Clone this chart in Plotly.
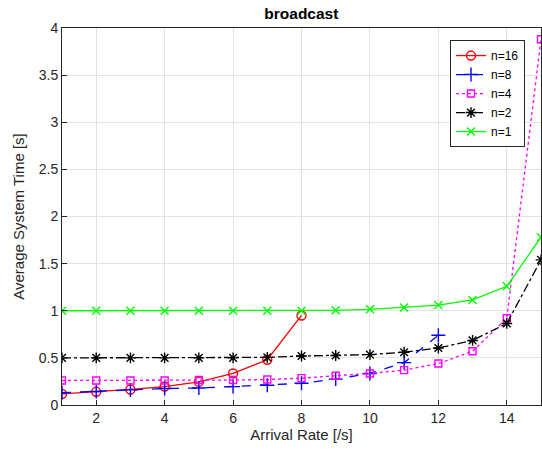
import plotly.graph_objects as go

x = list(range(1, 16))
n16 = [0.117, 0.14, 0.165, 0.196, 0.245, 0.335, 0.48, 0.95]
n8 = [0.13, 0.143, 0.16, 0.175, 0.18, 0.195, 0.21, 0.23, 0.275, 0.335, 0.45, 0.74]
n4 = [0.26, 0.26, 0.26, 0.26, 0.265, 0.265, 0.27, 0.285, 0.31, 0.335, 0.37, 0.44, 0.57, 0.92, 3.88]
n2 = [0.5, 0.5, 0.5, 0.5, 0.5, 0.5, 0.505, 0.52, 0.525, 0.535, 0.56, 0.605, 0.685, 0.865, 1.54]
n1 = [1.0, 1.0, 1.0, 1.0, 1.0, 1.0, 1.0, 1.0, 1.005, 1.015, 1.035, 1.06, 1.115, 1.26, 1.78]

series = [
    ("n=16", n16, "#ff0000", "solid", "circle-open", 9),
    ("n=8", n8, "#0000ff", "dash", "cross-thin-open", 10),
    ("n=4", n4, "#ff00ff", "dot", "square-open", 7),
    ("n=2", n2, "#000000", "dashdot", "asterisk-open", 9),
    ("n=1", n1, "#00ff00", "solid", "x-thin-open", 8),
]

fig = go.Figure()
for name, ys, col, dash, sym, sz in series:
    fig.add_trace(go.Scatter(
        x=x[:len(ys)], y=ys, name=name, mode="lines+markers",
        line=dict(color=col, width=1.3, dash=dash),
        marker=dict(symbol=sym, size=sz, color=col, line=dict(color=col, width=1.4)),
    ))

font = "Liberation Sans, Arial, Helvetica, sans-serif"
fig.update_layout(
    width=542, height=451,
    margin=dict(l=62, r=1, t=28, b=46, autoexpand=False),
    paper_bgcolor="white", plot_bgcolor="white",
    font=dict(family=font, size=14, color="#262626"),
    title=dict(text="<b>broadcast</b>", x=0.556, xanchor="center",
               yref="container", y=0.969, yanchor="middle",
               font=dict(size=15.5, color="black")),
    legend=dict(x=0.81, y=0.968, xanchor="left", yanchor="top",
                bgcolor="white", bordercolor="#262626", borderwidth=1,
                font=dict(size=12, color="black"), tracegroupgap=0,
                itemwidth=30, entrywidth=45, entrywidthmode="pixels"),
    showlegend=True,
)
fig.update_xaxes(
    range=[1, 15], tickvals=[2, 4, 6, 8, 10, 12, 14],
    showgrid=True, gridcolor="#e3e3e3", gridwidth=1,
    showline=True, linecolor="#262626", linewidth=1, mirror=True,
    ticks="inside", ticklen=5, tickcolor="#262626",
    zeroline=False, automargin=False,
    title=dict(text="Arrival Rate [/s]", font=dict(size=15, color="#262626"), standoff=4),
)
fig.update_yaxes(
    range=[0, 4], dtick=0.5,
    showgrid=True, gridcolor="#e3e3e3", gridwidth=1,
    showline=True, linecolor="#262626", linewidth=1, mirror=True,
    ticks="inside", ticklen=5, tickcolor="#262626",
    zeroline=False, automargin=False,
    title=dict(text="Average System Time [s]", font=dict(size=15, color="#262626"), standoff=10),
)
fig.write_html(
    "out.html",
    config={"displayModeBar": False},
    post_script="document.body.style.margin='0';document.documentElement.style.overflow='hidden';document.body.style.overflow='hidden';",
)
